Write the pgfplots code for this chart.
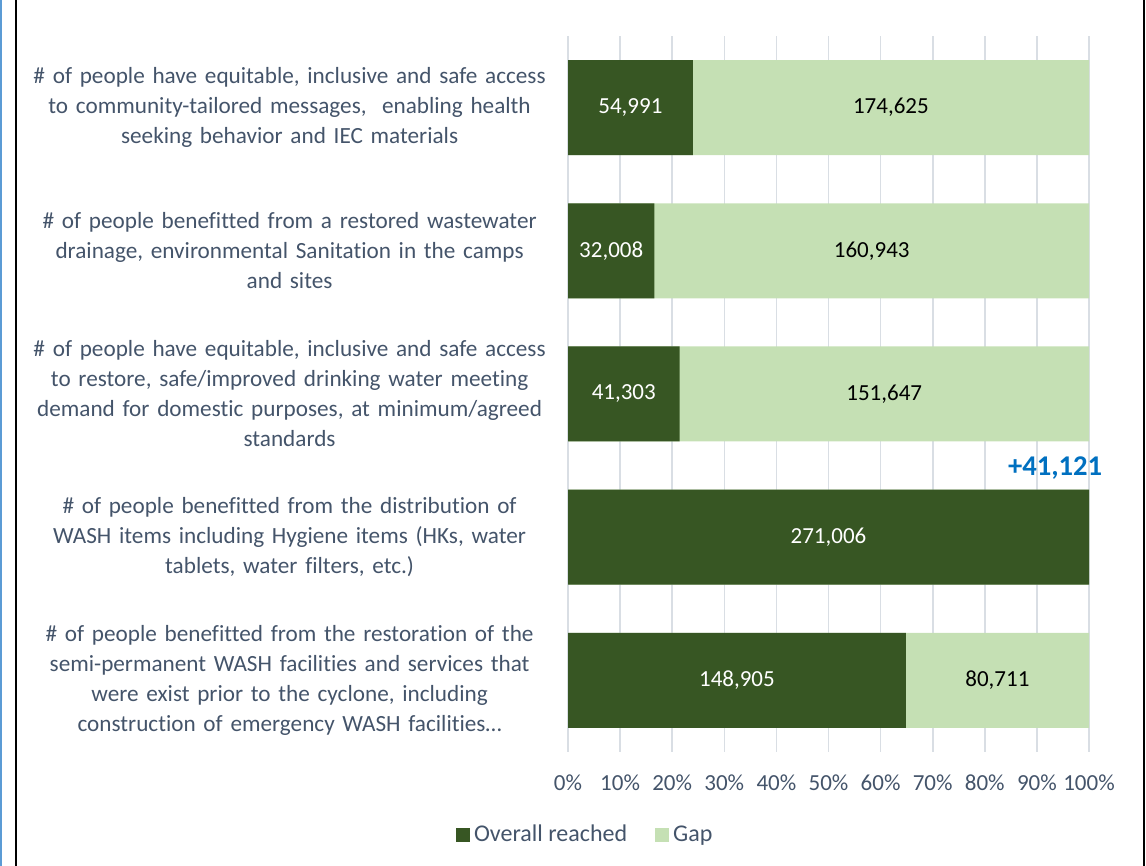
\documentclass[border=0pt]{standalone}
\usepackage{fontspec}
\setmainfont{Carlito}[Ligatures=NoCommon]
\usepackage{pgfplots}
\pgfplotsset{compat=1.18}
\usepackage{pgfplotstable}
\definecolor{reachedc}{HTML}{375623}
\definecolor{gapc}{HTML}{C5E0B4}
\definecolor{txt}{HTML}{44546A}
\definecolor{gridc}{HTML}{D9DEE4}
\definecolor{notec}{HTML}{0070C0}
\definecolor{frameblue}{HTML}{5B9BD5}

% idx 4 = top row of the chart
\pgfplotstableread{
idx reached gap
4 54991 174625
3 32008 160943
2 41303 151647
1 271006 0
0 148905 80711
}\washdata

\begin{document}
\begin{tikzpicture}
\path[use as bounding box] (0,0) rectangle (573pt,433pt);
\draw[frameblue, line width=1pt] (0.5pt,0) -- (0.5pt,433pt);
\draw[black, line width=0.8pt] (7.9pt,0) -- (7.9pt,433pt);
\draw[black, line width=0.8pt] (572pt,0) -- (572pt,433pt);
\begin{axis}[
  at={(284pt,57pt)}, anchor=south west, scale only axis,
  width=260.5pt, height=358pt, clip=false,
  xmin=0, xmax=100, ymin=-0.5, ymax=4.5,
  xtick={0,10,...,100}, ytick={0,...,4},
  /pgf/number format/assume math mode=true,
  xticklabel={\pgfmathprintnumber{\tick}\%},
  yticklabels={
    {\# of people benefitted from the restoration of the\\semi-permanent WASH facilities and services that\\were exist prior to the cyclone, including\\construction of emergency WASH facilities…},
    {\# of people benefitted from the distribution of\\WASH items including Hygiene items (HKs, water\\tablets, water filters, etc.)},
    {\# of people have equitable, inclusive and safe access\\to restore, safe/improved drinking water meeting\\demand for domestic purposes, at minimum/agreed\\standards},
    {\# of people benefitted from a restored wastewater\\drainage, environmental Sanitation in the camps\\and sites},
    {\# of people have equitable, inclusive and safe access\\to community-tailored messages,\ \ enabling health\\seeking behavior and IEC materials}},
  yticklabel style={align=center, text width=262pt, inner sep=0pt, xshift=-8pt,
    font=\fontsize{11.6}{15}\selectfont, text=txt},
  xticklabel style={font=\fontsize{11.5}{13}\selectfont, text=txt, yshift=-8pt},
  major tick length=0pt,
  axis line style={draw=none},
  xmajorgrids, grid style={gridc, line width=0.8pt},
  legend style={draw=none, fill=none, at={(axis description cs:0.035,-0.116)}, anchor=center,
    legend columns=2, font=\fontsize{12}{14}\selectfont, text=txt,
    /tikz/every even column/.append style={column sep=12pt}},
  legend image code/.code={\fill[#1, draw=none] (0pt,-3.5pt) rectangle (7pt,3.5pt);},
  every node near coord/.append style={font=\fontsize{11.5}{13}\selectfont, anchor=center, inner sep=0pt},
]
% gap bar = the whole of each row, drawn first
\addplot[xbar, bar width=47.5pt, bar shift=0pt, fill=gapc, draw=none, forget plot]
  table[x expr={100*(\thisrow{reached}+\thisrow{gap})/(\thisrow{reached}+\thisrow{gap})}, y=idx] {\washdata};
% reached share on top
\addplot[xbar, bar width=47.5pt, bar shift=0pt, fill=reachedc, draw=none, forget plot]
  table[x expr={100*\thisrow{reached}/(\thisrow{reached}+\thisrow{gap})}, y=idx] {\washdata};
% value labels
\addplot[only marks, mark=none, forget plot, point meta=explicit,
  nodes near coords={\pgfmathprintnumber[fixed, precision=0, 1000 sep={,}]{\pgfplotspointmeta}},
  every node near coord/.append style={text=white}]
  table[x expr={50*\thisrow{reached}/(\thisrow{reached}+\thisrow{gap})}, y=idx, meta=reached] {\washdata};
\addplot[only marks, mark=none, forget plot, point meta=explicit, skip coords between index={3}{4},
  nodes near coords={\pgfmathprintnumber[fixed, precision=0, 1000 sep={,}]{\pgfplotspointmeta}},
  every node near coord/.append style={text=black}]
  table[x expr={100*(\thisrow{reached}+0.5*\thisrow{gap})/(\thisrow{reached}+\thisrow{gap})}, y=idx, meta=gap] {\washdata};
\node[font=\fontsize{14.3}{16}\selectfont\bfseries, text=notec] at (axis cs:93.5,1.48) {+41,121};
\addlegendimage{fill=reachedc, draw=none}
\addlegendentry{Overall reached}
\addlegendimage{fill=gapc, draw=none}
\addlegendentry{Gap}
\end{axis}
\end{tikzpicture}
\end{document}
